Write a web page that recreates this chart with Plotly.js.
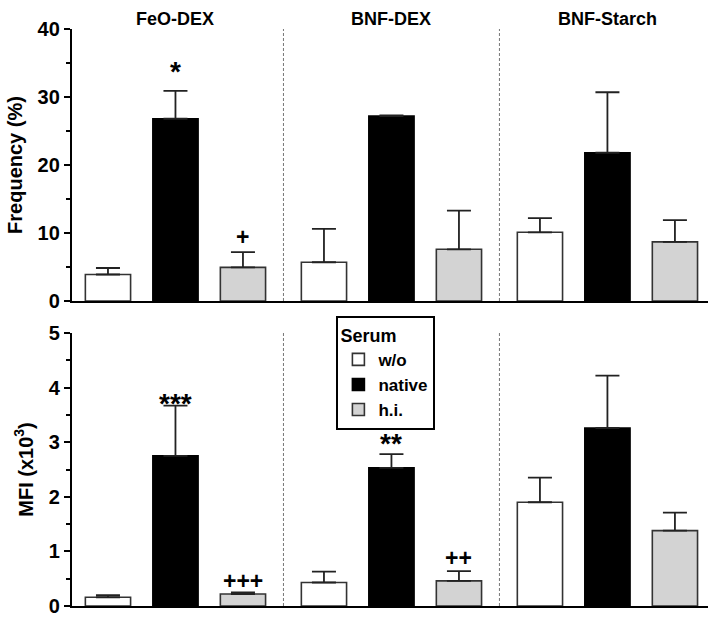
<!DOCTYPE html>
<html>
<head>
<meta charset="utf-8">
<script src="https://cdn.plot.ly/plotly-3.0.1.min.js"></script>
<style>html,body{margin:0;padding:0;background:#fff;}#chart{width:718px;height:620px;}</style>
</head>
<body>
<div id="chart"></div>
<script>
// ---- data ----
var groups = ['FeO-DEX', 'BNF-DEX', 'BNF-Starch'];
var serum = ['w/o', 'native', 'h.i.'];

var freqWo = [3.9, 5.7, 10.1];
var freqWoErr = [0.95, 4.9, 2.1];
var freqNative = [26.8, 27.2, 21.8];
var freqNativeErr = [4.1, 0.1, 8.9];
var freqHi = [4.95, 7.6, 8.7];
var freqHiErr = [2.25, 5.7, 3.2];

var mfiWo = [0.16, 0.43, 1.90];
var mfiWoErr = [0.04, 0.20, 0.45];
var mfiNative = [2.75, 2.53, 3.26];
var mfiNativeErr = [0.92, 0.25, 0.96];
var mfiHi = [0.22, 0.46, 1.38];
var mfiHiErr = [0.03, 0.18, 0.33];

var sigFreqNative = ['*', '', ''];
var sigFreqHi = ['+', '', ''];
var sigMfiNative = ['***', '**', ''];
var sigMfiHi = ['+++', '++', ''];

// ---- layout helpers ----
var groupStep = 3.2;
function pos(b) { return groups.map(function (g, i) { return i * groupStep + b; }); }

var fills = ['#ffffff', '#000000', '#d3d3d3'];
var lines = ['#333333', '#000000', '#333333'];
var FONT = 'Arial, "Liberation Sans", sans-serif';

function barTrace(b, vals, errs, xa, ya, showleg) {
  return {
    type: 'bar', x: pos(b), y: vals, name: serum[b],
    xaxis: xa, yaxis: ya, width: 0.67,
    marker: { color: fills[b], line: { color: lines[b], width: 1.6 } },
    error_y: { type: 'data', symmetric: false, array: errs, arrayminus: errs.map(function () { return 0; }),
      color: '#222', thickness: 1.8, width: 12 },
    showlegend: showleg, hoverinfo: 'y'
  };
}

var traces = [
  barTrace(0, freqWo, freqWoErr, 'x', 'y', false),
  barTrace(1, freqNative, freqNativeErr, 'x', 'y', false),
  barTrace(2, freqHi, freqHiErr, 'x', 'y', false),
  barTrace(0, mfiWo, mfiWoErr, 'x2', 'y2', true),
  barTrace(1, mfiNative, mfiNativeErr, 'x2', 'y2', true),
  barTrace(2, mfiHi, mfiHiErr, 'x2', 'y2', true)
];

var W = 718, H = 620;
var xr = [-0.533, 8.89];
var xdom = [72 / W, 708 / W];
var ydomTop = [1 - 301 / H, 1 - 29 / H];
var ydomBot = [1 - 606 / H, 1 - 333 / H];

var annotations = [];
groups.forEach(function (g, i) {
  annotations.push({ xref: 'x', yref: 'paper', x: i * groupStep + 1, y: 1 - 19 / H, text: '<b>' + g + '</b>',
    showarrow: false, font: { family: FONT, size: 18, color: '#000' }, xanchor: 'center', yanchor: 'middle' });
});
// text styling for significance marks (size, vertical nudge in px)
var sigStyle = {
  '*': { size: 28, shift: 2 }, '**': { size: 28, shift: -7 }, '***': { size: 28, shift: -15 },
  '+': { size: 23, shift: 0 }, '++': { size: 23, shift: -2 }, '+++': { size: 23, shift: -4 }
};
function sig(arr, vals, errs, b, xa, ya) {
  arr.forEach(function (s, i) {
    if (!s) return;
    var st = sigStyle[s];
    annotations.push({ xref: xa, yref: ya, x: i * groupStep + b, y: vals[i] + errs[i], text: '<b>' + s + '</b>',
      showarrow: false, font: { family: FONT, size: st.size, color: '#000' }, xanchor: 'center', yanchor: 'bottom', yshift: st.shift });
  });
}
sig(sigFreqNative, freqNative, freqNativeErr, 1, 'x', 'y');
sig(sigFreqHi, freqHi, freqHiErr, 2, 'x', 'y');
sig(sigMfiNative, mfiNative, mfiNativeErr, 1, 'x2', 'y2');
sig(sigMfiHi, mfiHi, mfiHiErr, 2, 'x2', 'y2');

var shapes = [];
[2.6, 5.8].forEach(function (xv) {
  [ydomTop, ydomBot].forEach(function (d, k) {
    shapes.push({ type: 'line', xref: k === 0 ? 'x' : 'x2', yref: 'paper', x0: xv, x1: xv, y0: d[0], y1: d[1],
      line: { color: '#777', width: 1, dash: '3px,2px' } });
  });
});

function yax(dom, range, dtick, minor, title, anchor) {
  return {
    domain: dom, range: range, dtick: dtick, anchor: anchor, showgrid: false, zeroline: false,
    showline: true, linecolor: '#000', linewidth: 2.2, ticks: 'outside', ticklen: 6, tickwidth: 2, tickcolor: '#000',
    minor: { dtick: minor, ticks: 'outside', ticklen: 4, tickwidth: 2, tickcolor: '#000' },
    tickfont: { family: FONT, size: 20, color: '#000', weight: 'bold' },
    title: { text: '<b>' + title + '</b>', font: { family: FONT, size: 20, color: '#000' }, standoff: 10 },
    fixedrange: true
  };
}
function xax(anchor) {
  return { domain: xdom, range: xr, anchor: anchor, showgrid: false, zeroline: false, showticklabels: false,
    ticks: '', showline: true, linecolor: '#000', linewidth: 2.2, fixedrange: true };
}

var layout = {
  width: W, height: H, margin: { l: 0, r: 0, t: 0, b: 0 },
  paper_bgcolor: '#fff', plot_bgcolor: '#fff',
  font: { family: FONT, color: '#000' },
  bargap: 0,
  xaxis: xax('y'),
  xaxis2: xax('y2'),
  yaxis: yax(ydomTop, [0, 40], 10, 5, 'Frequency (%)', 'x'),
  yaxis2: yax(ydomBot, [0, 5], 1, 0.5, 'MFI (x10<sup>3</sup>)', 'x2'),
  legend: {
    x: 336 / W, y: 1 - 316 / H, xanchor: 'left', yanchor: 'top',
    bgcolor: '#fff', bordercolor: '#000', borderwidth: 2.4,
    title: { text: '<b>Serum</b>', font: { family: FONT, size: 18, color: '#000' } },
    font: { family: FONT, size: 17, color: '#000', weight: 'bold' },
    tracegroupgap: 0, itemwidth: 30
  },
  annotations: annotations,
  shapes: shapes
};

Plotly.newPlot('chart', traces, layout, { displayModeBar: false, staticPlot: true });
</script>
</body>
</html>
